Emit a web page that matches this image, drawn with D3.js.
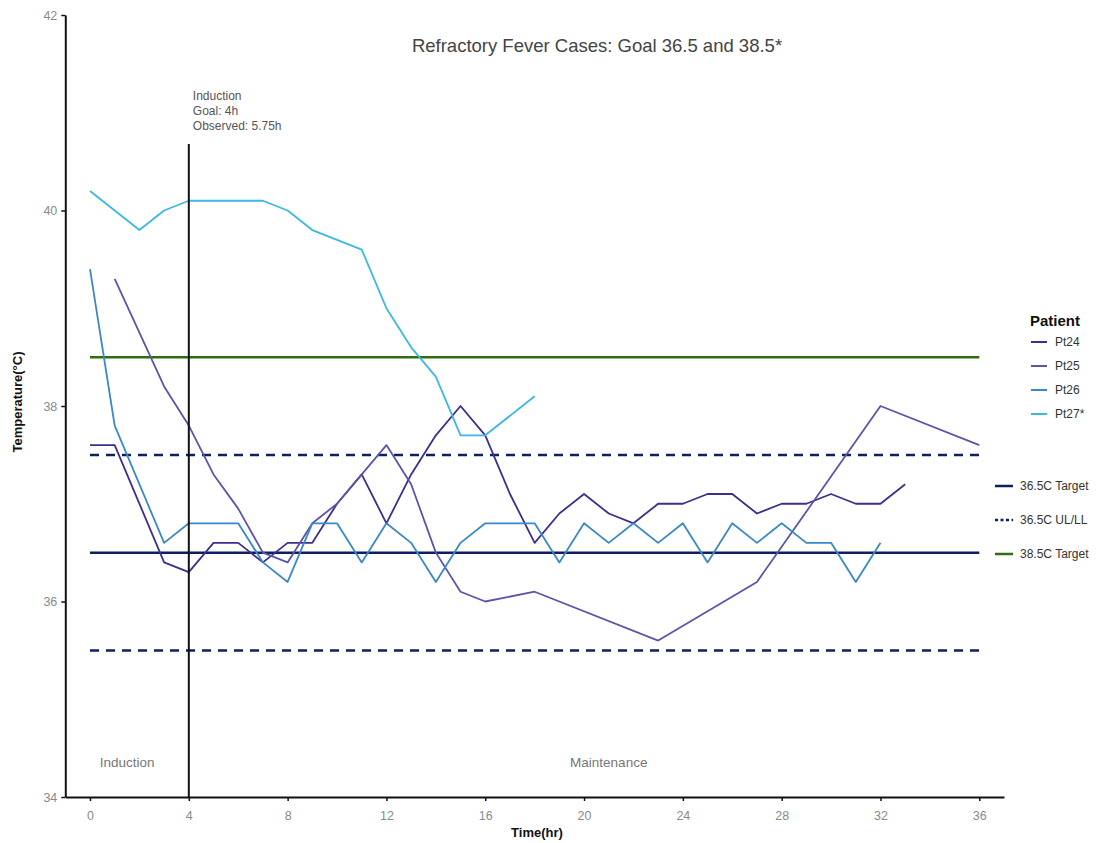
<!DOCTYPE html>
<html>
<head>
<meta charset="utf-8">
<script src="https://cdn.jsdelivr.net/npm/d3@7"></script>
<style>
  body { margin: 0; background: #fff; }
  text { font-family: "Liberation Sans", Arial, sans-serif; }
</style>
</head>
<body>
<div id="chart"></div>
<script>
// patient series: [hour, temperature]
const pt24 = [[0,37.6],[1,37.6],[3,36.4],[4,36.3],[5,36.6],[6,36.6],[7,36.4],[8,36.6],[9,36.6],[10,37.0],[11,37.3],[12,36.8],[13,37.3],[14,37.7],[15,38.0],[16,37.7],[17,37.1],[18,36.6],[19,36.9],[20,37.1],[21,36.9],[22,36.8],[23,37.0],[24,37.0],[25,37.1],[26,37.1],[27,36.9],[28,37.0],[29,37.0],[30,37.1],[31,37.0],[32,37.0],[33,37.2]];
const pt25 = [[1,39.3],[2,38.75],[3,38.2],[4,37.8],[5,37.3],[6,36.95],[7,36.5],[8,36.4],[9,36.8],[10,37.0],[11,37.3],[12,37.6],[13,37.2],[14,36.5],[15,36.1],[16,36.0],[18,36.1],[23,35.6],[27,36.2],[32,38.0],[36,37.6]];
const pt26 = [[0,39.4],[1,37.8],[3,36.6],[4,36.8],[5,36.8],[6,36.8],[7,36.4],[8,36.2],[9,36.8],[10,36.8],[11,36.4],[12,36.8],[13,36.6],[14,36.2],[15,36.6],[16,36.8],[17,36.8],[18,36.8],[19,36.4],[20,36.8],[21,36.6],[22,36.8],[23,36.6],[24,36.8],[25,36.4],[26,36.8],[27,36.6],[28,36.8],[29,36.6],[30,36.6],[31,36.2],[32,36.6]];
const pt27 = [[0,40.2],[2,39.8],[3,40.0],[4,40.1],[7,40.1],[8,40.0],[9,39.8],[11,39.6],[12,39.0],[13,38.6],[14,38.3],[15,37.7],[16,37.7],[18,38.1]];

const patientNames = ["Pt24", "Pt25", "Pt26", "Pt27*"];
const patientColors = ["#3f2d8f", "#5a55aa", "#3a88c8", "#3db8e2"];

const xTicks = [0, 4, 8, 12, 16, 20, 24, 28, 32, 36];
const yTicks = [34, 36, 38, 40, 42];

// reference lines
const targetNames = ["36.5C Target", "36.5C UL/LL", "38.5C Target"];
const target365 = 36.5;
const limits365 = [37.5, 35.5];
const target385 = 38.5;
const refSpan = [0, 36];

const inductionGoal = 4;
const inductionTop = 40.68;
const inductionNote = ["Induction", "Goal: 4h", "Observed: 5.75h"];

const width = 1096, height = 843;

const svg = d3.select("#chart").append("svg")
  .attr("width", width)
  .attr("height", height);

const x = d3.scaleLinear().domain([-1, 37]).range([65.3, 1004]);
const y = d3.scaleLinear().domain([34, 42]).range([797, 15]);

// axes
const xAxis = svg.append("g")
  .attr("transform", `translate(0,${y(34)})`)
  .call(d3.axisBottom(x).tickValues(xTicks).tickSize(4).tickSizeOuter(0));
const yAxis = svg.append("g")
  .attr("transform", `translate(${x(-1)},0)`)
  .call(d3.axisLeft(y).tickValues(yTicks).tickSize(4).tickSizeOuter(0));

[xAxis, yAxis].forEach(a => {
  a.select(".domain").attr("stroke", "#111").attr("stroke-width", 2);
  a.selectAll(".tick line").attr("stroke", "#111").attr("stroke-width", 1.5);
  a.selectAll(".tick text")
    .attr("fill", "#8a8a8a")
    .style("font-size", "12.5px");
});
xAxis.selectAll(".tick text").attr("dy", "1.25em");
yAxis.selectAll(".tick text").attr("x", -8);

svg.append("text")
  .attr("x", 537).attr("y", 837)
  .attr("text-anchor", "middle")
  .style("font-size", "13px").style("font-weight", "bold")
  .attr("fill", "#111")
  .text("Time(hr)");

svg.append("text")
  .attr("transform", `translate(22,402) rotate(-90)`)
  .attr("text-anchor", "middle")
  .style("font-size", "13px").style("font-weight", "bold")
  .attr("fill", "#111")
  .text("Temperature(°C)");

svg.append("text")
  .attr("x", 597).attr("y", 52)
  .attr("text-anchor", "middle")
  .style("font-size", "18.5px")
  .attr("fill", "#444")
  .text("Refractory Fever Cases: Goal 36.5 and 38.5*");

// phase labels
svg.append("text")
  .attr("x", x(1.5)).attr("y", 767)
  .attr("text-anchor", "middle")
  .style("font-size", "13.5px").attr("fill", "#777")
  .text("Induction");
svg.append("text")
  .attr("x", x(21)).attr("y", 767)
  .attr("text-anchor", "middle")
  .style("font-size", "13.5px").attr("fill", "#777")
  .text("Maintenance");

// reference lines
svg.append("line")
  .attr("x1", x(refSpan[0])).attr("x2", x(refSpan[1]))
  .attr("y1", y(target385)).attr("y2", y(target385))
  .attr("stroke", "#2f6e0c").attr("stroke-width", 2.5);

limits365.forEach(v => {
  svg.append("line")
    .attr("x1", x(refSpan[0])).attr("x2", x(refSpan[1]))
    .attr("y1", y(v)).attr("y2", y(v))
    .attr("stroke", "#0e1f5e").attr("stroke-width", 2.5)
    .attr("stroke-dasharray", "9,7");
});

svg.append("line")
  .attr("x1", x(refSpan[0])).attr("x2", x(refSpan[1]))
  .attr("y1", y(target365)).attr("y2", y(target365))
  .attr("stroke", "#0e1f5e").attr("stroke-width", 2.5);

// patient lines
const line = d3.line().x(d => x(d[0])).y(d => y(d[1]));
[pt24, pt25, pt26, pt27].forEach((series, i) => {
  svg.append("path")
    .datum(series)
    .attr("fill", "none")
    .attr("stroke", patientColors[i])
    .attr("stroke-width", 1.8)
    .attr("stroke-linejoin", "round")
    .attr("d", line);
});

// induction marker
svg.append("line")
  .attr("x1", x(inductionGoal)).attr("x2", x(inductionGoal))
  .attr("y1", y(inductionTop)).attr("y2", y(34))
  .attr("stroke", "#111").attr("stroke-width", 2);

svg.append("text")
  .attr("x", x(inductionGoal) + 4).attr("y", 100)
  .style("font-size", "12px").attr("fill", "#555")
  .selectAll("tspan")
  .data(inductionNote)
  .enter().append("tspan")
  .attr("x", x(inductionGoal) + 4)
  .attr("dy", (d, i) => i === 0 ? 0 : "1.25em")
  .text(d => d);

// legend: patients
const leg = svg.append("g").attr("transform", "translate(1030,320)");
leg.append("text")
  .attr("x", 0).attr("y", 6)
  .style("font-size", "15px").style("font-weight", "bold")
  .attr("fill", "#111")
  .text("Patient");
patientNames.forEach((name, i) => {
  const yy = 22 + i * 24;
  leg.append("line")
    .attr("x1", 1).attr("x2", 17)
    .attr("y1", yy).attr("y2", yy)
    .attr("stroke", patientColors[i]).attr("stroke-width", 2);
  leg.append("text")
    .attr("x", 25).attr("y", yy + 4)
    .style("font-size", "12px").attr("fill", "#333")
    .text(name);
});

// legend: targets
const leg2 = svg.append("g").attr("transform", "translate(995,486)");
const targetStyles = [
  { color: "#0e1f5e", dash: null },
  { color: "#0e1f5e", dash: "3,2.5" },
  { color: "#2f6e0c", dash: null }
];
targetNames.forEach((name, i) => {
  const yy = i * 34;
  leg2.append("line")
    .attr("x1", 0).attr("x2", 18)
    .attr("y1", yy).attr("y2", yy)
    .attr("stroke", targetStyles[i].color).attr("stroke-width", 2.5)
    .attr("stroke-dasharray", targetStyles[i].dash);
  leg2.append("text")
    .attr("x", 25).attr("y", yy + 4)
    .style("font-size", "12px").attr("fill", "#333")
    .text(name);
});
</script>
</body>
</html>
